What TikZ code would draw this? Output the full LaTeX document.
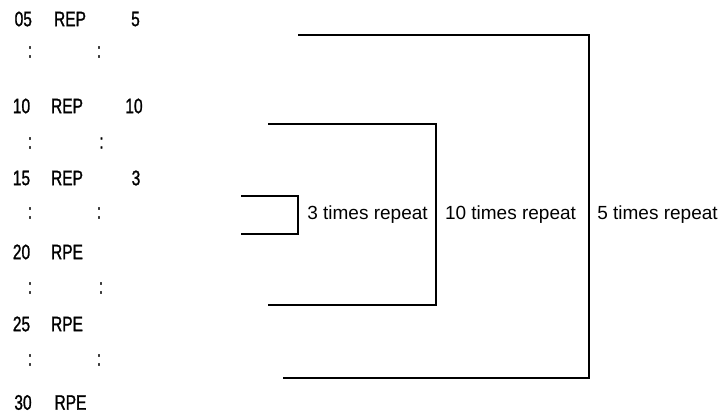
\documentclass[tikz,border=0pt]{standalone}
\usepackage{fontspec}
\setmainfont{Liberation Sans}
\newfontfamily\codefont[FakeStretch=0.74,FakeBold=1.2]{Liberation Sans}
\begin{document}
\begin{tikzpicture}[x=1pt,y=-1pt,
  code/.style={inner sep=0pt,font=\codefont\fontsize{21}{24}\selectfont},
  lbl/.style={inner sep=0pt,font=\fontsize{19}{22}\selectfont},
  brk/.style={line width=1.4pt}]
\useasboundingbox (0,0) rectangle (724,416);
% left code listing
\node[code] (a1) at (23.3,19) {05};
\node[code] (a2) at (70,19) {REP};
\node[code] (a3) at (135.5,19) {5};
\node[code] (c1a) at (30,52) {:};
\node[code] (c1b) at (99,52) {:};
\node[code] (b1) at (21.5,106) {10};
\node[code] (b2) at (67,106) {REP};
\node[code] (b3) at (134,106) {10};
\node[code] (c2a) at (30,143) {:};
\node[code] (c2b) at (101.5,143) {:};
\node[code] (d1) at (21.5,178) {15};
\node[code] (d2) at (67,178) {REP};
\node[code] (d3) at (136,178) {3};
\node[code] (c3a) at (30,213) {:};
\node[code] (c3b) at (99,213) {:};
\node[code] (e1) at (21.5,252) {20};
\node[code] (e2) at (67,252) {RPE};
\node[code] (c4a) at (30,288) {:};
\node[code] (c4b) at (101,288) {:};
\node[code] (f1) at (21.5,324) {25};
\node[code] (f2) at (67,324) {RPE};
\node[code] (c5a) at (30,360) {:};
\node[code] (c5b) at (99,360) {:};
\node[code] (g1) at (23,402.5) {30};
\node[code] (g2) at (70.5,402.5) {RPE};
% brackets
\coordinate (o1) at (298,35);
\coordinate (o2) at (589,35);
\coordinate (o3) at (589,378);
\coordinate (o4) at (283,378);
\draw[brk] (o1) -- (o2) -- (o3) -- (o4);
\coordinate (m1) at (268,124);
\coordinate (m2) at (436,124);
\coordinate (m3) at (436,305);
\coordinate (m4) at (268,305);
\draw[brk] (m1) -- (m2) -- (m3) -- (m4);
\coordinate (i1) at (241,196);
\coordinate (i2) at (298,196);
\coordinate (i3) at (298,234);
\coordinate (i4) at (241,234);
\draw[brk] (i1) -- (i2) -- (i3) -- (i4);
% labels
\node[lbl] (l3) at (367.5,215) {3 times repeat};
\node[lbl] (l10) at (510.5,215) {10 times repeat};
\node[lbl] (l5) at (657.5,215) {5 times repeat};
\end{tikzpicture}
\end{document}
